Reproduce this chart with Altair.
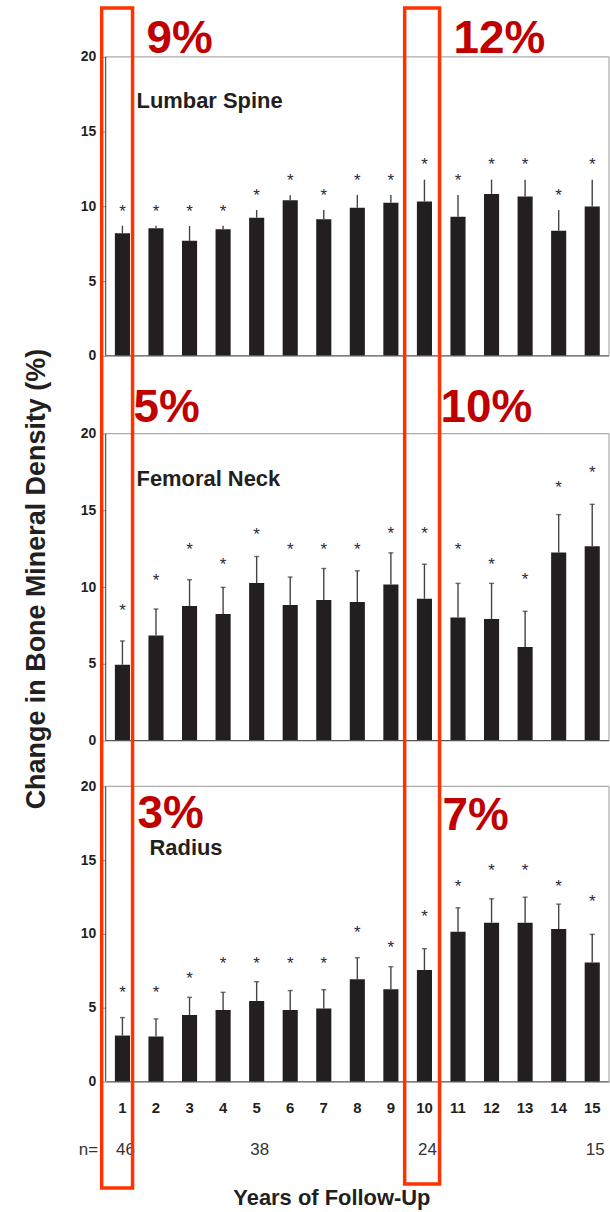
import altair as alt
import pandas as pd

# ---------------- data ----------------
years = ["1", "2", "3", "4", "5", "6", "7", "8", "9", "10", "11", "12", "13", "14", "15"]

spine_mean = [8.2, 8.53, 7.69, 8.46, 9.24, 10.41, 9.13, 9.9, 10.23, 10.32, 9.3, 10.83, 10.65, 8.37, 9.99]
spine_sd = [0.5, 0.17, 1.0, 0.24, 0.51, 0.33, 0.62, 0.86, 0.53, 1.46, 1.46, 0.95, 1.13, 1.38, 1.79]
spine_star = [9.85, 9.85, 9.85, 9.85, 10.9, 11.9, 10.9, 11.9, 11.9, 12.93, 11.9, 12.93, 12.93, 10.9, 12.93]

femur_mean = [4.94, 6.84, 8.77, 8.25, 10.26, 8.83, 9.16, 9.03, 10.17, 9.24, 8.01, 7.92, 6.1, 12.25, 12.66]
femur_sd = [1.55, 1.73, 1.71, 1.73, 1.73, 1.82, 2.05, 2.03, 2.06, 2.25, 2.23, 2.32, 2.32, 2.47, 2.73]
femur_star = [8.64, 10.6, 12.64, 11.65, 13.6, 12.64, 12.64, 12.64, 13.64, 13.64, 12.64, 11.65, 10.65, 16.65, 17.64]

radius_mean = [3.11, 3.04, 4.51, 4.85, 5.46, 4.85, 4.94, 6.92, 6.25, 7.55, 10.15, 10.76, 10.76, 10.33, 8.07]
radius_sd = [1.22, 1.2, 1.19, 1.19, 1.3, 1.31, 1.28, 1.47, 1.53, 1.45, 1.62, 1.62, 1.73, 1.69, 1.9]
radius_star = [6.18, 6.18, 7.15, 8.18, 8.18, 8.18, 8.18, 10.28, 9.27, 11.32, 13.39, 14.45, 14.45, 13.39, 12.38]

panel_names = ["Lumbar Spine", "Femoral Neck", "Radius"]
pct_left = ["9%", "5%", "3%"]
pct_right = ["12%", "10%", "7%"]

n_years = ["1", "5", "10", "15"]
n_values = ["46", "38", "24", "15"]

y_title = "Change in Bone Mineral Density (%)"
x_title = "Years of Follow-Up"

# ---------------- styling ----------------
FONT = "Liberation Sans"
DARK = "#231F20"
RED = "#C00000"
BOX = "#FF3300"
W = 505

one = pd.DataFrame({"k": [0]})


def panel_df(mean, sd, star):
    return pd.DataFrame({
        "year": years,
        "mean": mean,
        "hi": [m + s for m, s in zip(mean, sd)],
        "star": star,
    })


def xenc(show_axis):
    ax = None
    if show_axis:
        ax = alt.Axis(labelAngle=0, labelFont=FONT, labelFontSize=15, labelFontWeight="bold",
                      labelColor=DARK, ticks=False, tickSize=0, labelPadding=19,
                      domainColor="#555", domainWidth=1.2, title=None)
    return alt.X("year:N", sort=years,
                 scale=alt.Scale(domain=years, paddingInner=0.55, paddingOuter=0.275),
                 axis=ax, title=None)


def text_layer(txt, x, y, size, color, weight="bold", align="left", angle=None, font=FONT):
    kw = dict(text=txt, align=align, baseline="alphabetic", font=font, fontSize=size,
              fontWeight=weight, color=color)
    if angle is not None:
        kw["angle"] = angle
    return alt.Chart(one).mark_text(**kw).encode(x=alt.value(x), y=alt.value(y))


def make_panel(df, ymax, label, label_pos, pcts, pct_pos, caps, bottom):
    yscale = alt.Scale(domain=[0, ymax], nice=False)
    yaxis = alt.Axis(values=[0, 5, 10, 15, 20], labelFont=FONT, labelFontSize=14,
                     labelFontWeight="bold", labelColor=DARK, tickSize=4, tickColor="#888",
                     domain=False, labelPadding=6, grid=False, title=None)
    base = alt.Chart(df)
    bars = base.mark_bar(color=DARK).encode(
        x=xenc(bottom), y=alt.Y("mean:Q", scale=yscale, axis=yaxis, title=None))
    err = base.mark_rule(color="#444", strokeWidth=1.4).encode(
        x=xenc(bottom), y="mean:Q", y2="hi:Q")
    layers = [bars, err]
    if caps:
        layers.append(base.mark_tick(color="#333", size=5, thickness=1.4).encode(
            x=xenc(bottom), y="hi:Q"))
    layers.append(base.mark_text(text="*", color="#2a2a38", fontSize=17, font=FONT,
                                 baseline="middle", dy=3).encode(x=xenc(bottom), y="star:Q"))
    # frame: grey top / right, dark left / bottom
    frame = alt.Chart(one)
    layers.append(frame.mark_rule(color="#aaa", strokeWidth=1.2).encode(
        y=alt.datum(20), x=alt.value(0), x2=alt.value(W)))
    layers.append(frame.mark_rule(color="#aaa", strokeWidth=1.2).encode(
        x=alt.value(W), y=alt.datum(0), y2=alt.datum(20)))
    layers.append(frame.mark_rule(color="#555", strokeWidth=1.2).encode(
        x=alt.value(0), y=alt.datum(0), y2=alt.datum(20)))
    if not bottom:
        layers.append(frame.mark_rule(color="#555", strokeWidth=1.2).encode(
            y=alt.datum(0), x=alt.value(0), x2=alt.value(W)))
    layers.append(text_layer(label, label_pos[0], label_pos[1], 22, DARK))
    layers.append(text_layer(pcts[0], pct_pos[0][0], pct_pos[0][1], 46, RED))
    layers.append(text_layer(pcts[1], pct_pos[1][0], pct_pos[1][1], 46, RED))
    return layers


# top panel: 300 px plot
top_layers = make_panel(panel_df(spine_mean, spine_sd, spine_star), 20,
                        panel_names[0], (31, 51), (pct_left[0], pct_right[0]),
                        [(41, -4), (349, -4)], caps=False, bottom=False)
top = alt.layer(*top_layers).properties(width=W, height=300)

# middle panel: 308 px plot plus 32 px of empty room above the 20 line
MID_H = 340
mid_layers = make_panel(panel_df(femur_mean, femur_sd, femur_star), 20 * MID_H / 308,
                        panel_names[1], (31, 85), (pct_left[1], pct_right[1]),
                        [(28, 20), (336, 20)], caps=True, bottom=False)
mid_layers.append(text_layer(y_title, -61, 178, 27, DARK, align="center", angle=270))
mid = alt.layer(*mid_layers).properties(width=W, height=MID_H)

# bottom panel: 296 px plot
bot_layers = make_panel(panel_df(radius_mean, radius_sd, radius_star), 20,
                        panel_names[2], (44, 69), (pct_left[2], pct_right[2]),
                        [(32, 42), (338, 44)], caps=True, bottom=True)
n_df = pd.DataFrame({"year": n_years, "n": n_values})
bot_layers.append(alt.Chart(n_df).mark_text(font=FONT, fontSize=17, color="#333",
                                            baseline="alphabetic", dx=3).encode(
    x=xenc(True), y=alt.value(370), text="n:N"))
bot_layers.append(text_layer("n=", -27, 370, 17, "#333", weight="normal"))
bot_layers.append(text_layer(x_title, 227, 420, 22, DARK, align="center"))
# red highlight boxes
bot_layers.append(alt.Chart(one).mark_rect(fillOpacity=0, stroke=BOX, strokeWidth=3.5).encode(
    x=alt.value(-4), x2=alt.value(27), y=alt.value(-781), y2=alt.value(403)))
bot_layers.append(alt.Chart(one).mark_rect(fillOpacity=0, stroke=BOX, strokeWidth=3.5).encode(
    x=alt.value(300), x2=alt.value(335), y=alt.value(-781), y2=alt.value(399)))
bot = alt.layer(*bot_layers).properties(width=W, height=296)

chart = alt.vconcat(top, mid, bot, spacing=46, bounds="flush").properties(
    padding={"top": 4, "left": 22, "right": 0, "bottom": 0},
    background="white",
).configure_view(strokeWidth=0)

chart.save("out.html", embed_options={"renderer": "svg", "actions": False})
